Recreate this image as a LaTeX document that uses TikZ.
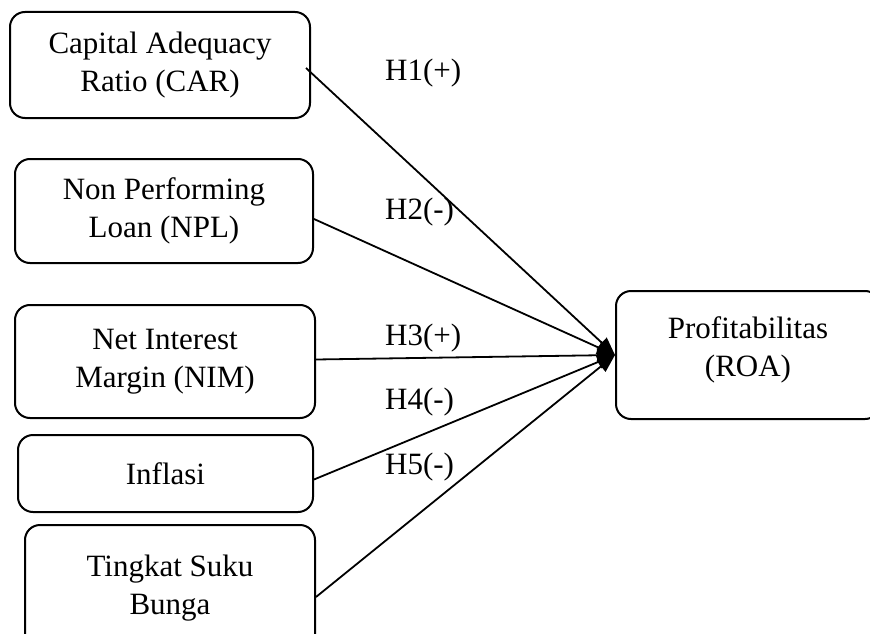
\documentclass[tikz,border=0pt]{standalone}
\usepackage{fontspec}
\setmainfont{Liberation Serif}
\usetikzlibrary{arrows.meta,positioning}

\begin{document}
\begin{tikzpicture} [x=1pt, y=-1pt, nodes={font=\fontsize{31}{38}\selectfont,
          inner sep=0}, box/.style={draw, line width=2pt, rounded
          corners=15pt, align=center}, hyp/.style={anchor=west},
          link/.style={line width=1.8pt, -{Triangle[length=18pt,width=14pt]}}]
  \useasboundingbox (0,0) rectangle (870,634);
  % variabel bebas
  \node[box, minimum width=300pt, minimum height=106pt] (car) at (160,65)
    {Capital Adequacy\\Ratio (CAR)};
  \node[box, minimum width=298pt, minimum height=104pt] (npl) at (164,211)
    {Non Performing\\Loan (NPL)};
  \node[box, minimum width=300pt, minimum height=113pt] (nim) at (165,361.5)
    {Net Interest\\Margin (NIM)};
  \node[box, minimum width=295pt, minimum height=77pt] (inf) at (165.5,473.5)
    {Inflasi};
  \node[box, minimum width=290pt, minimum height=126pt] (tsb) at (170,588)
    {Tingkat Suku\\Bunga};
  % variabel terikat
  \node[box, minimum width=264pt, minimum height=128pt] (roa) at (748,355)
    {Profitabilitas\\(ROA)\\[-22pt]};
  % hipotesis
  \node[hyp] (h1) at (385,73) {H1(+)};
  \node[hyp] (h2) at (385,212) {H2(-)};
  \node[hyp] (h3) at (385,338) {H3(+)};
  \node[hyp] (h4) at (385,402) {H4(-)};
  \node[hyp] (h5) at (385,467) {H5(-)};
  \draw[link] ([xshift=-5pt,yshift=-3pt]car.east) -- (roa.west);
  \draw[link] ([yshift=-8pt]npl.east) -- (roa.west);
  \draw[link] ([yshift=2pt]nim.east) -- (roa.west);
  \draw[link] ([yshift=-6pt]inf.east) -- (roa.west);
  \draw[link] ([yshift=-9pt]tsb.east) -- (roa.west);
\end{tikzpicture}
\end{document}
